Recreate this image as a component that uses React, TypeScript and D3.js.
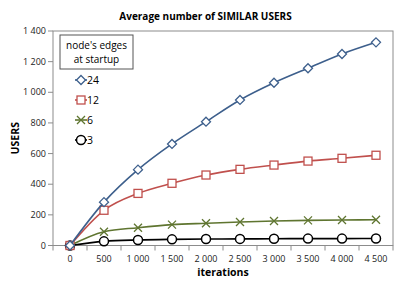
import React from "react";
import * as d3 from "d3";

const iterations = [0, 500, 1000, 1500, 2000, 2500, 3000, 3500, 4000, 4500];
const yTicks = [0, 200, 400, 600, 800, 1000, 1200, 1400];

const edges24 = [0, 283, 495, 663, 808, 950, 1062, 1157, 1250, 1326];
const edges12 = [0, 230, 340, 406, 460, 497, 525, 551, 569, 589];
const edges6 = [0, 90, 116, 136, 145, 153, 160, 164, 166, 168];
const edges3 = [0, 27, 36, 40, 42, 43, 44, 45, 45, 46];

const seriesNames = ["24", "12", "6", "3"];
const seriesColors = ["#3d5f8c", "#c0504d", "#5f7530", "#000000"];
const seriesMarkers = ["diamond", "square", "cross", "circle"];

const fmt = (v: number) => d3.format(",")(v).replace(/,/g, " ");

const Marker = ({ kind, x, y, color }: { kind: string; x: number; y: number; color: string }) => {
  if (kind === "diamond")
    return <path d={`M${x},${y - 4.5}L${x + 4.5},${y}L${x},${y + 4.5}L${x - 4.5},${y}Z`} fill="white" stroke={color} strokeWidth={1.3} />;
  if (kind === "square")
    return <rect x={x - 4} y={y - 4} width={8} height={8} fill="white" stroke={color} strokeWidth={1.3} />;
  if (kind === "cross")
    return <path d={`M${x - 4},${y - 4}L${x + 4},${y + 4}M${x - 4},${y + 4}L${x + 4},${y - 4}`} stroke={color} strokeWidth={1.3} />;
  return <circle cx={x} cy={y} r={4.5} fill="white" stroke={color} strokeWidth={1.5} />;
};

const App = () => {
  const width = 415;
  const height = 294;
  const m = { left: 53, right: 22, top: 31, bottom: 48.5 };
  const iw = width - m.left - m.right;
  const ih = height - m.top - m.bottom;

  const x = d3.scaleBand<number>().domain(iterations).range([0, iw]);
  const y = d3.scaleLinear().domain([0, 1400]).range([ih, 0]);
  const cx = (v: number) => (x(v) || 0) + x.bandwidth() / 2;

  const all = [edges24, edges12, edges6, edges3];
  const line = d3
    .line<number>()
    .x((_, i) => cx(iterations[i]))
    .y((d) => y(d))
    .curve(d3.curveMonotoneX);

  const font = "'Open Sans', sans-serif";

  return (
    <svg width={width} height={height} style={{ position: "absolute", left: 0, top: 0 }} fontFamily={font}>
      <rect width={width} height={height} fill="white" />
      <text x={205.5} y={20} textAnchor="middle" fontSize={10} fontWeight="bold">
        Average number of SIMILAR USERS
      </text>
      <g transform={`translate(${m.left},${m.top})`}>
        <rect x={0} y={0} width={iw} height={ih} fill="none" stroke="#8c8c8c" />
        {/* y axis */}
        {yTicks.map((t) => (
          <g key={t} transform={`translate(0,${y(t)})`}>
            <line x1={-5} x2={0} stroke="#8c8c8c" />
            <text x={-7} dy="0.35em" textAnchor="end" fontSize={9} fill="#222">
              {fmt(t)}
            </text>
          </g>
        ))}
        {/* x axis */}
        {iterations.map((t, i) => (
          <g key={t}>
            <line x1={x.step() * i} x2={x.step() * i} y1={ih} y2={ih + 5} stroke="#8c8c8c" />
            <text x={cx(t)} y={ih + 16} textAnchor="middle" fontSize={9} fill="#222">
              {fmt(t)}
            </text>
          </g>
        ))}
        <line x1={iw} x2={iw} y1={ih} y2={ih + 5} stroke="#8c8c8c" />
        {/* series, drawn back to front */}
        {[3, 2, 1, 0].map((s) => (
          <g key={seriesNames[s]}>
            <path d={line(all[s]) || ""} fill="none" stroke={seriesColors[s]} strokeWidth={1.6} />
            {all[s].map((v, i) => (
              <Marker key={i} kind={seriesMarkers[s]} x={cx(iterations[i])} y={y(v)} color={seriesColors[s]} />
            ))}
          </g>
        ))}
        {/* legend */}
        <g transform="translate(7,4)">
          <rect x={0} y={0} width={73} height={34} fill="white" stroke="#555" />
          <text x={36.5} y={14} textAnchor="middle" fontSize={10}>
            node's edges
          </text>
          <text x={36.5} y={28} textAnchor="middle" fontSize={10}>
            at startup
          </text>
          {seriesNames.map((n, i) => (
            <g key={n} transform={`translate(21,${45 + i * 20})`}>
              <line x1={-6} x2={6} stroke={seriesColors[i]} strokeWidth={1.6} />
              <Marker kind={seriesMarkers[i]} x={0} y={0} color={seriesColors[i]} />
              <text x={6} dy="0.35em" fontSize={10.5}>
                {n}
              </text>
            </g>
          ))}
        </g>
      </g>
      <text transform={`translate(19,${m.top + ih / 2}) rotate(-90)`} textAnchor="middle" fontSize={10.5} fontWeight="bold">
        USERS
      </text>
      <text x={223} y={276} textAnchor="middle" fontSize={10.5} fontWeight="bold">
        iterations
      </text>
    </svg>
  );
};

export default App;
